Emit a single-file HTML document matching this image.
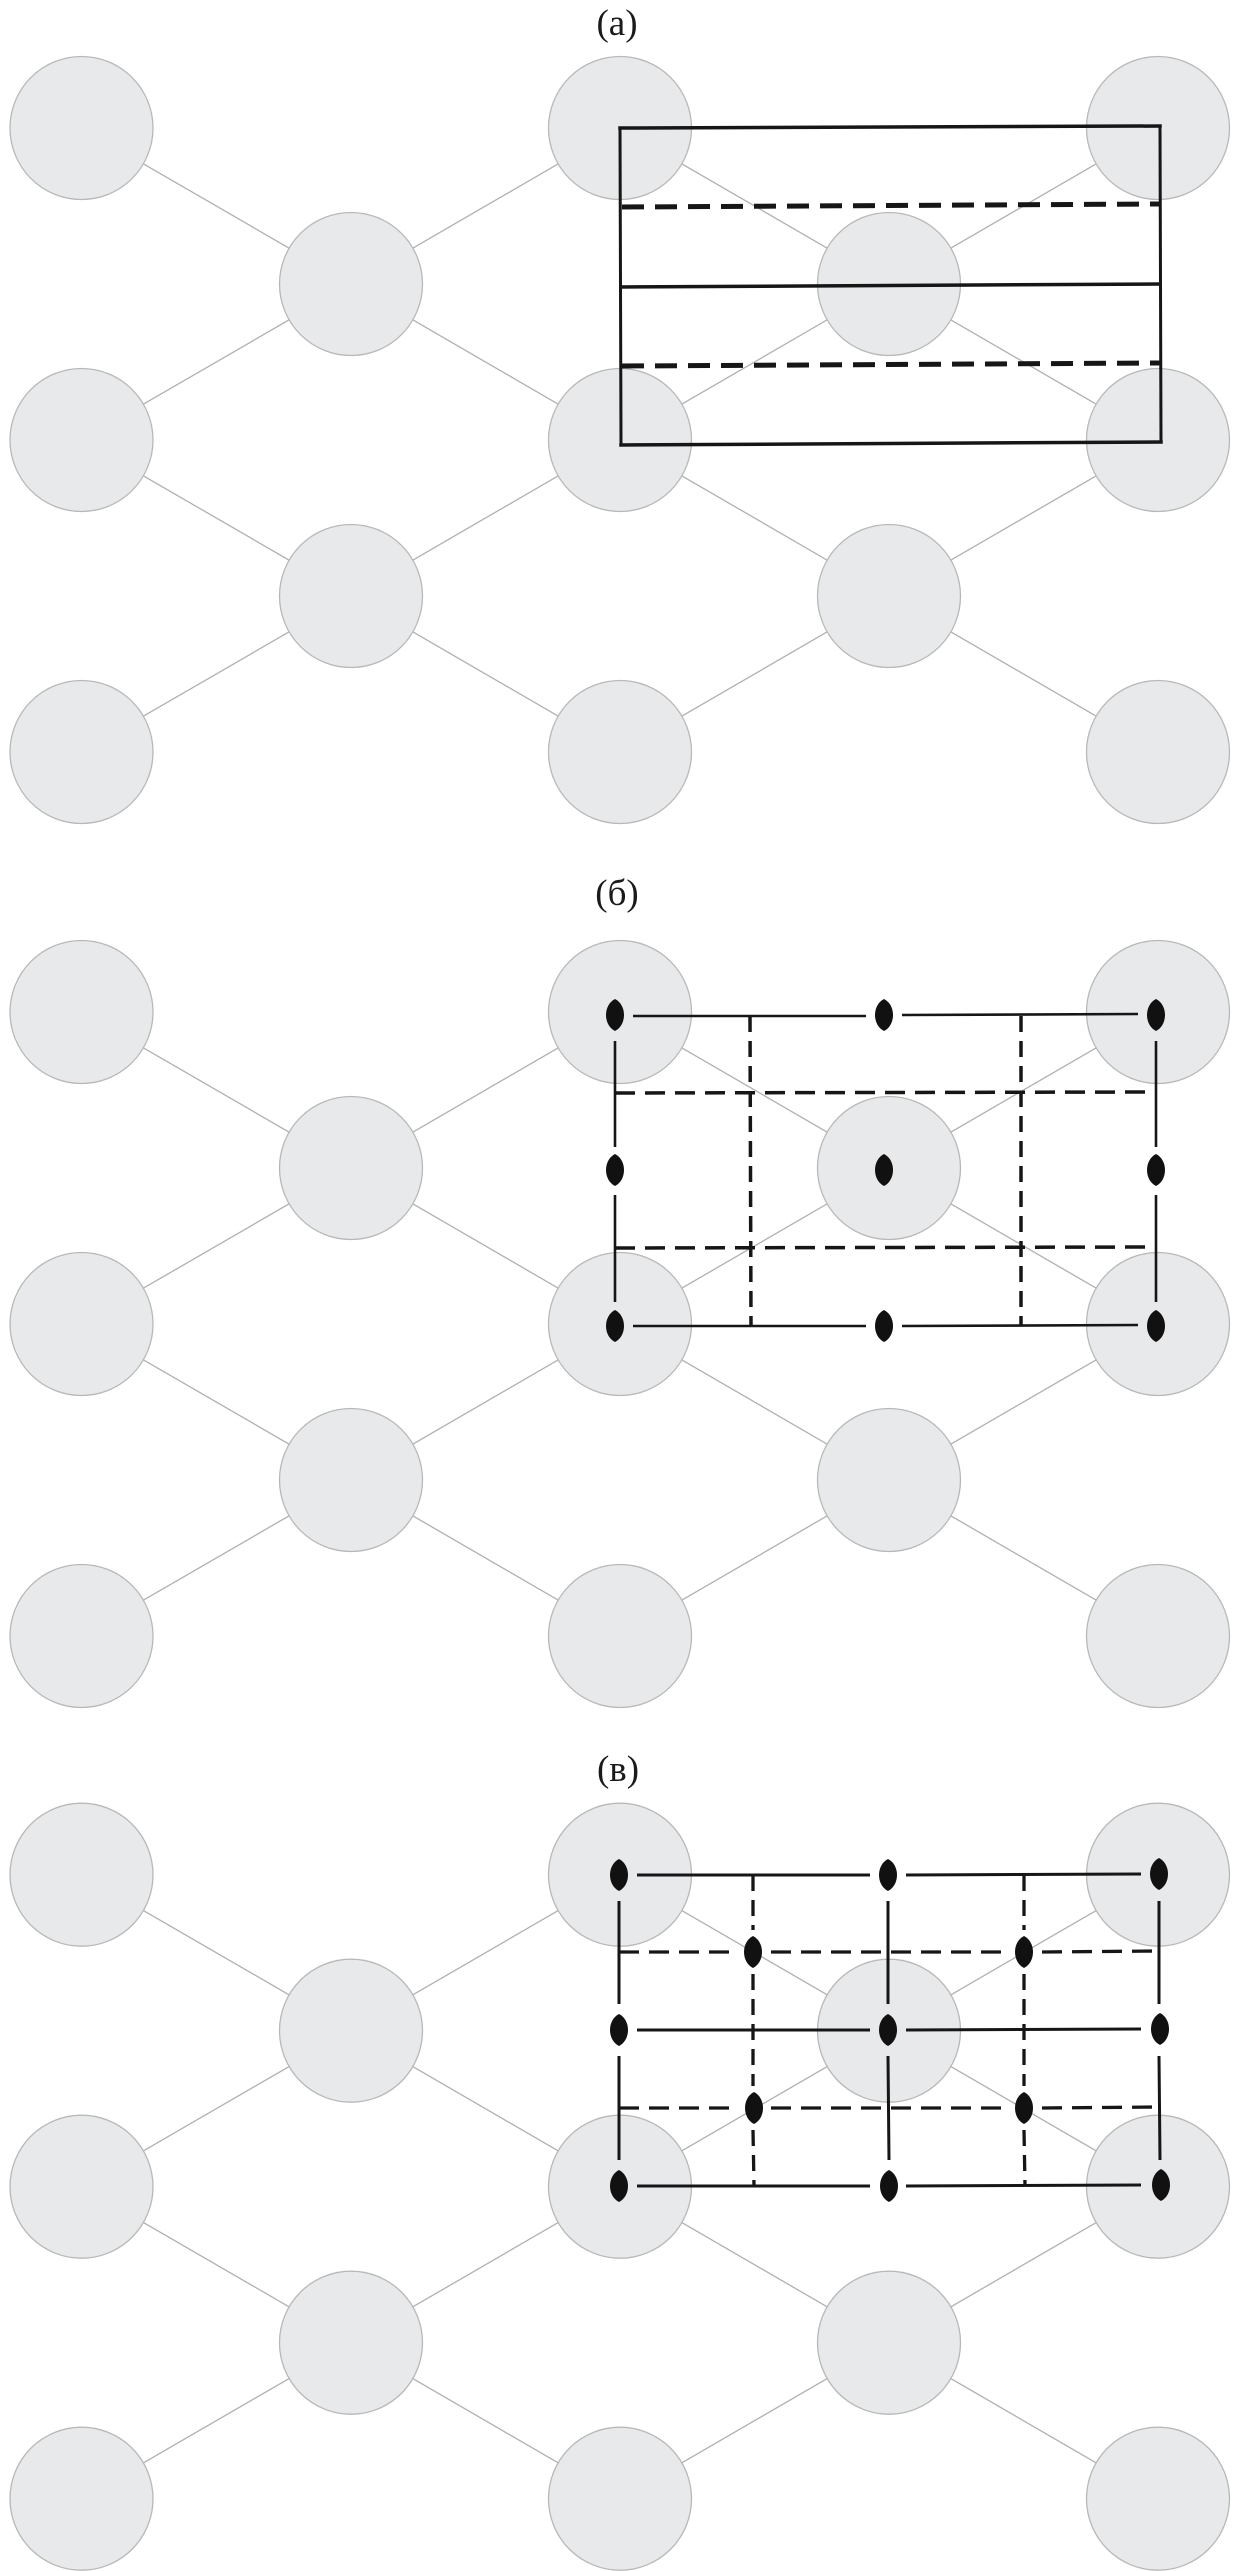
<!DOCTYPE html>
<html>
<head>
<meta charset="utf-8">
<style>
  html, body { margin: 0; padding: 0; background: #ffffff; }
  svg { display: block; }
</style>
</head>
<body>
<svg xmlns="http://www.w3.org/2000/svg" width="1236" height="2571" viewBox="0 0 1236 2571">
  <defs>
    <g id="lattice">
      <g stroke="#b0b0b0" stroke-width="1.3" fill="none">
        <line x1="81.5" y1="0" x2="351" y2="156"/>
        <line x1="620" y1="0" x2="351" y2="156"/>
        <line x1="620" y1="0" x2="889" y2="156"/>
        <line x1="1158" y1="0" x2="889" y2="156"/>
        <line x1="351" y1="156" x2="81.5" y2="312"/>
        <line x1="351" y1="156" x2="620" y2="312"/>
        <line x1="889" y1="156" x2="620" y2="312"/>
        <line x1="889" y1="156" x2="1158" y2="312"/>
        <line x1="81.5" y1="312" x2="351" y2="468"/>
        <line x1="620" y1="312" x2="351" y2="468"/>
        <line x1="620" y1="312" x2="889" y2="468"/>
        <line x1="1158" y1="312" x2="889" y2="468"/>
        <line x1="351" y1="468" x2="81.5" y2="624"/>
        <line x1="351" y1="468" x2="620" y2="624"/>
        <line x1="889" y1="468" x2="620" y2="624"/>
        <line x1="889" y1="468" x2="1158" y2="624"/>
      </g>
      <g fill="#e8e9ea" stroke="#b8b8b8" stroke-width="1.3">
        <circle cx="81.5" cy="0" r="71.5"/>
        <circle cx="620" cy="0" r="71.5"/>
        <circle cx="1158" cy="0" r="71.5"/>
        <circle cx="351" cy="156" r="71.5"/>
        <circle cx="889" cy="156" r="71.5"/>
        <circle cx="81.5" cy="312" r="71.5"/>
        <circle cx="620" cy="312" r="71.5"/>
        <circle cx="1158" cy="312" r="71.5"/>
        <circle cx="351" cy="468" r="71.5"/>
        <circle cx="889" cy="468" r="71.5"/>
        <circle cx="81.5" cy="624" r="71.5"/>
        <circle cx="620" cy="624" r="71.5"/>
        <circle cx="1158" cy="624" r="71.5"/>
      </g>
    </g>
    <path id="dot" d="M0,-16 C12,-10 12,10 0,16 C-12,10 -12,-10 0,-16 Z" fill="#111"/>
  </defs>

  <rect x="0" y="0" width="1236" height="2571" fill="#ffffff"/>

  <!-- Labels -->
  <g font-family="'Liberation Serif', 'DejaVu Serif', serif" font-size="37" fill="#1a1a1a" text-anchor="middle">
    <text x="617" y="35">(а)</text>
    <text x="617" y="905">(б)</text>
    <text x="618" y="1781">(в)</text>
  </g>

  <!-- Panel (a) -->
  <use href="#lattice" transform="translate(0,128)"/>
  <g stroke="#161616" fill="none" stroke-linecap="square">
    <line x1="620" y1="128" x2="1160" y2="126" stroke-width="3.5"/>
    <line x1="621" y1="445" x2="1161" y2="442" stroke-width="3.5"/>
    <line x1="620" y1="128" x2="621" y2="445" stroke-width="3"/>
    <line x1="1160" y1="126" x2="1161" y2="442" stroke-width="3"/>
    <line x1="621" y1="287" x2="1160" y2="284" stroke-width="3.5"/>
  </g>
  <g stroke="#161616" fill="none" stroke-width="5" stroke-dasharray="22 11">
    <line x1="622" y1="207" x2="1160" y2="204"/>
    <line x1="622" y1="366" x2="1160" y2="363"/>
  </g>

  <!-- Panel (б) -->
  <use href="#lattice" transform="translate(0,1012)"/>
  <g stroke="#161616" fill="none" stroke-width="2.6">
    <line x1="633" y1="1016" x2="866" y2="1016"/>
    <line x1="902" y1="1015" x2="1138" y2="1014"/>
    <line x1="633" y1="1326" x2="866" y2="1326"/>
    <line x1="902" y1="1326" x2="1138" y2="1325"/>
    <line x1="615" y1="1041" x2="615" y2="1147"/>
    <line x1="615" y1="1195" x2="615" y2="1302"/>
    <line x1="1156" y1="1041" x2="1156" y2="1147"/>
    <line x1="1156" y1="1195" x2="1156" y2="1302"/>
  </g>
  <g stroke="#161616" fill="none" stroke-width="3.5">
    <line x1="615" y1="1093" x2="1156" y2="1092" stroke-dasharray="20 10"/>
    <line x1="615" y1="1248" x2="1156" y2="1247" stroke-dasharray="20 10"/>
    <line x1="750" y1="1016" x2="751" y2="1326" stroke-dasharray="16 9"/>
    <line x1="1021" y1="1016" x2="1021" y2="1326" stroke-dasharray="16 9"/>
  </g>
  <g>
    <use href="#dot" x="615" y="1015"/>
    <use href="#dot" x="884" y="1015"/>
    <use href="#dot" x="1156" y="1015"/>
    <use href="#dot" x="615" y="1170"/>
    <use href="#dot" x="884" y="1170"/>
    <use href="#dot" x="1156" y="1170"/>
    <use href="#dot" x="615" y="1326"/>
    <use href="#dot" x="884" y="1326"/>
    <use href="#dot" x="1156" y="1326"/>
  </g>

  <!-- Panel (в) -->
  <use href="#lattice" transform="translate(0,1874.7)"/>
  <g stroke="#161616" fill="none" stroke-width="3">
    <!-- solid horizontals -->
    <line x1="637" y1="1875" x2="870" y2="1875"/>
    <line x1="906" y1="1875" x2="1141" y2="1874"/>
    <line x1="637" y1="2030" x2="870" y2="2030"/>
    <line x1="906" y1="2030" x2="1141" y2="2029"/>
    <line x1="637" y1="2186" x2="870" y2="2186"/>
    <line x1="906" y1="2186" x2="1141" y2="2185"/>
    <!-- solid verticals -->
    <line x1="619" y1="1901" x2="619" y2="2004"/>
    <line x1="619" y1="2056" x2="619" y2="2160"/>
    <line x1="888" y1="1901" x2="888" y2="2004"/>
    <line x1="888" y1="2056" x2="889" y2="2160"/>
    <line x1="1159" y1="1901" x2="1159" y2="2004"/>
    <line x1="1159" y1="2056" x2="1160" y2="2160"/>
  </g>
  <g stroke="#161616" fill="none" stroke-width="3.3">
    <!-- dashed horizontals -->
    <g stroke-dasharray="20 10">
      <line x1="619" y1="1952" x2="735" y2="1952"/>
      <line x1="771" y1="1952" x2="1006" y2="1952"/>
      <line x1="1042" y1="1952" x2="1159" y2="1951"/>
      <line x1="619" y1="2108" x2="735" y2="2108"/>
      <line x1="771" y1="2108" x2="1006" y2="2108"/>
      <line x1="1042" y1="2108" x2="1159" y2="2107"/>
    </g>
    <!-- dashed verticals -->
    <g stroke-dasharray="16 9">
      <line x1="753" y1="1875" x2="753" y2="1930"/>
      <line x1="753" y1="1974" x2="753" y2="2086"/>
      <line x1="753" y1="2130" x2="754" y2="2186"/>
      <line x1="1024" y1="1875" x2="1024" y2="1930"/>
      <line x1="1024" y1="1974" x2="1024" y2="2086"/>
      <line x1="1024" y1="2130" x2="1025" y2="2186"/>
    </g>
  </g>
  <g>
    <use href="#dot" x="619" y="1875"/>
    <use href="#dot" x="888" y="1875"/>
    <use href="#dot" x="1159" y="1874"/>
    <use href="#dot" x="619" y="2030"/>
    <use href="#dot" x="888" y="2030"/>
    <use href="#dot" x="1160" y="2029"/>
    <use href="#dot" x="619" y="2186"/>
    <use href="#dot" x="889" y="2186"/>
    <use href="#dot" x="1161" y="2185"/>
    <use href="#dot" x="753" y="1952"/>
    <use href="#dot" x="1024" y="1952"/>
    <use href="#dot" x="754" y="2108"/>
    <use href="#dot" x="1024" y="2108"/>
  </g>
</svg>
</body>
</html>
